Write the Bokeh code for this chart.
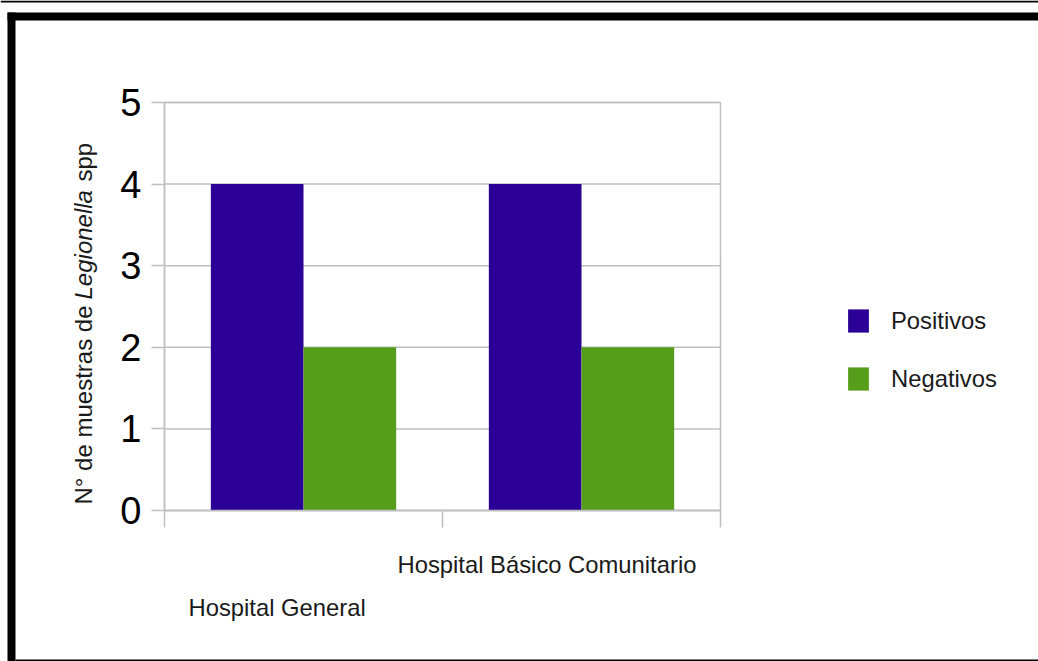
from bokeh.plotting import figure
from bokeh.models import (ColumnDataSource, FixedTicker, Label, Legend, LegendItem,
                          BoxAnnotation, Range1d)
from bokeh.embed import file_html
from bokeh.resources import INLINE

# Data
categories = ["Hospital General", "Hospital Básico Comunitario"]
positivos = [4, 4]
negativos = [2, 2]
y_ticks = [0, 1, 2, 3, 4, 5]
y_max = 5

FONT = "Liberation Sans"
GRID = "#c0c0c0"
C_POS = "#2a0096"
C_NEG = "#579d1c"
TXT = "#1a1a1a"
TXT_SIZE = "23.8px"

W, H = 1038, 661
# plot area inside the page: left/right/top/bottom pixel edges
PL, PR, PT, PB = 164, 720, 102, 510
n = len(categories)
xs = (PR - PL) / n
ys = (PB - PT) / y_max

# the frame covers the whole page; the ranges put the value area where it belongs
p = figure(width=W, height=H, output_backend="svg", toolbar_location=None,
           x_range=Range1d(-PL / xs, (W - PL) / xs),
           y_range=Range1d(-(H - PB) / ys, PB / ys),
           min_border=0, min_border_left=0, min_border_right=0,
           min_border_top=0, min_border_bottom=0)
p.background_fill_color = "white"
p.border_fill_color = "white"
p.outline_line_color = None
p.xgrid.visible = False
p.ygrid.visible = False

# horizontal grid lines and the plot-area outline
p.segment(x0=0, x1=n, y0=y_ticks, y1=y_ticks, line_color=GRID, line_width=1.5)
p.quad(left=0, right=n, bottom=0, top=y_max, fill_color=None,
       line_color=GRID, line_width=1.5)

# bars: each category is one unit wide, the two series fill its middle two thirds
centers = [i + 0.5 for i in range(n)]
bw = 1 / 3
src = ColumnDataSource(dict(
    x_pos=[c - bw / 2 for c in centers],
    x_neg=[c + bw / 2 for c in centers],
    pos=positivos, neg=negativos))
r_pos = p.vbar(x="x_pos", top="pos", bottom=0, width=bw, source=src,
               fill_color=C_POS, line_color=None)
r_neg = p.vbar(x="x_neg", top="neg", bottom=0, width=bw, source=src,
               fill_color=C_NEG, line_color=None)

# axes pinned to the value origin
yax = p.yaxis[0]
yax.fixed_location = 0
yax.bounds = (0, y_max)
yax.ticker = FixedTicker(ticks=y_ticks)
yax.axis_line_color = GRID
yax.axis_line_width = 1.5
yax.major_tick_line_color = GRID
yax.major_tick_line_width = 1.5
yax.major_tick_in = 0
yax.major_tick_out = 13
yax.minor_tick_line_color = None
yax.major_label_standoff = 10
yax.major_label_text_font = FONT
yax.major_label_text_font_size = "38px"
yax.major_label_text_color = "black"

xax = p.xaxis[0]
xax.fixed_location = 0
xax.bounds = (0, n)
xax.ticker = FixedTicker(ticks=list(range(n + 1)))
xax.axis_line_color = GRID
xax.axis_line_width = 1.5
xax.major_tick_line_color = GRID
xax.major_tick_line_width = 1.5
xax.major_tick_in = 0
xax.major_tick_out = 17
xax.minor_tick_line_color = None
xax.major_label_text_color = None

# staggered category labels (screen units from the bottom-left of the page)
cat_pos = [(188, 54), (397, 97)]
for name, (sx, sy) in zip(categories, cat_pos):
    p.add_layout(Label(x=sx, y=sy, x_units="screen", y_units="screen", text=name,
                       text_font=FONT, text_font_size=TXT_SIZE,
                       text_color=TXT, text_baseline="alphabetic"))

# vertical axis title with the genus in italics
title_parts = [("N° de muestras de", "normal", 157),
               ("Legionella", "italic", 362),
               ("spp", "normal", 480)]
for txt, style, off in title_parts:
    p.add_layout(Label(x=83, y=off, x_units="screen", y_units="screen", text=txt,
                       angle=1.5708, text_font=FONT, text_font_size="24px",
                       text_font_style=style, text_color=TXT,
                       text_baseline="alphabetic", text_align="left"))

# legend
legend = Legend(items=[LegendItem(label="Positivos", renderers=[r_pos]),
                       LegendItem(label="Negativos", renderers=[r_neg])],
                location=(845, 268), orientation="vertical")
legend.border_line_color = None
legend.background_fill_alpha = 0
legend.padding = 0
legend.margin = 0
legend.glyph_width = 26
legend.glyph_height = 29
legend.label_height = 29
legend.spacing = 29
legend.label_standoff = 20
legend.label_text_font = FONT
legend.label_text_font_size = TXT_SIZE
legend.label_text_color = TXT
p.add_layout(legend, "center")

# page frame lines (screen units from the bottom-left of the page)
frame_boxes = [
    (0, W, H, H - 2),        # thin rule at the very top
    (7, W, H - 12, H - 20),  # heavy top border
    (7, 15, H - 12, 0),      # heavy left border
    (15, W, 2, 0),           # bottom rule
]
for l, r, t, b in frame_boxes:
    p.add_layout(BoxAnnotation(left=l, right=r, top=t, bottom=b,
                               left_units="screen", right_units="screen",
                               top_units="screen", bottom_units="screen",
                               fill_color="black", fill_alpha=1, line_color=None,
                               level="overlay"))

open("out.html", "w").write(file_html(p, INLINE))
